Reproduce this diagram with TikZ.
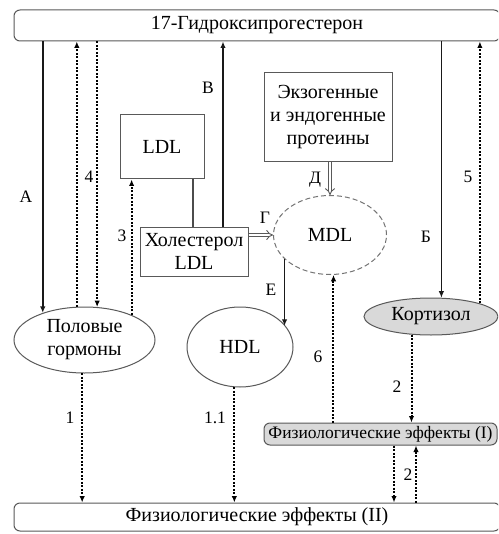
\documentclass[tikz,border=0pt]{standalone}
\usepackage{fontspec}
\setmainfont{Liberation Serif}
\usetikzlibrary{shapes.geometric,arrows.meta}
\begin{document}
\begin{tikzpicture}[x=1pt,y=-1pt,
  txt/.style={font=\fontsize{20}{23}\selectfont},
  lbl/.style={font=\fontsize{17.5}{20}\selectfont, inner sep=0pt},
  bx/.style={draw=black!65, line width=1pt, inner sep=0pt, txt, align=center},
  rbx/.style={bx, rounded corners=6pt},
  ell/.style={ellipse, draw=black!65, line width=1pt, inner sep=0pt, txt, align=center},
  sol/.style={draw=black!90, line width=1.5pt, -{Latex[length=6.5pt,width=5.5pt]}},
  plain/.style={draw=black!70, line width=1.1pt},
  dotl/.style={draw=black, line width=2pt, dash pattern=on 2pt off 1.5pt, -{Latex[length=6.5pt,width=5.5pt]}},
  dbl/.style={double=white, draw=black!65, line width=0.9pt, double distance=2.6pt, -{Implies}},
]
\clip (0,0) rectangle (498,534);
\fill[white] (0,0) rectangle (498,534);

% nodes
\node[rbx, minimum width=486pt, minimum height=31pt] (top) at (257,25.5) {17-Гидроксипрогестерон};
\node[rbx, minimum width=486pt, minimum height=28pt] (fiz2) at (257,517) {Физиологические эффекты (II)};
\node[rbx, fill=black!15, minimum width=233pt, minimum height=22pt, font=\fontsize{17.5}{20}\selectfont] (fiz1) at (380.5,434) {Физиологические эффекты (I)};
\node[bx, minimum width=84pt, minimum height=64pt] (ldl) at (162,147) {LDL};
\node[bx, minimum width=108pt, minimum height=49pt] (chol) at (194,251.5) {Холестерол\\LDL};
\node[bx, minimum width=128pt, minimum height=89pt] (exo) at (328,117.5) {Экзогенные\\и эндогенные\\протеины};
\node[ell, draw=black!55, dash pattern=on 5pt off 3pt, minimum width=113pt, minimum height=79pt] (mdl) at (330,235) {MDL};
\node[ell, minimum width=141pt, minimum height=66pt] (pol) at (84.5,340) {Половые\\гормоны};
\node[ell, minimum width=106pt, minimum height=80pt] (hdl) at (240,347) {HDL};
\node[ell, fill=black!15, minimum width=134pt, minimum height=37pt] (kort) at (431,316.5) {Кортизол};

% helper coordinates
\coordinate (xB) at (223,0);
\coordinate (xL) at (193,0);
\coordinate (x2a) at (394,0);
\coordinate (x2b) at (416,0);

% connectors
\draw[sol] (top.south -| pol.147) -- (pol.147);
\draw[dotl] (pol.103) -- (top.south -| pol.103);
\draw[dotl] (top.south -| pol.69) -- (pol.69);
\draw[dotl] (pol.28) -- (ldl.south -| pol.28);
\draw[sol] (chol.north -| xB) -- (top.south -| xB);
\draw[plain] (ldl.south -| xL) -- (chol.north -| xL);
\draw[dbl] (chol.east |- mdl.west) -- (mdl.west);
\draw[dbl] (exo.south -| mdl.north) -- (mdl.north);
\draw[sol] (mdl.208) -- (mdl.208 |- hdl.25);
\draw[sol] (top.south -| kort.61) -- (kort.61);
\draw[dotl] (kort.15) -- (top.south -| kort.15);
\draw[dotl] (kort.-137) -- (fiz1.north -| kort.-137);
\draw[dotl] (fiz1.north -| mdl.-85) -- (mdl.-85);
\draw[dotl] (pol.-94) -- (fiz2.north -| pol.-94);
\draw[dotl] (hdl.-98) -- (fiz2.north -| hdl.-98);
\draw[dotl] (fiz1.south -| x2a) -- (fiz2.north -| x2a);
\draw[dotl] (fiz2.north -| x2b) -- (fiz1.south -| x2b);

% labels
\node[lbl] (lA) at (26,197) {А};
\node[lbl] (l4) at (89,177) {4};
\node[lbl] (l3) at (122,236) {3};
\node[lbl] (lV) at (208,88) {В};
\node[lbl] (lD) at (315,180) {Д};
\node[lbl] (lG) at (265,218) {Г};
\node[lbl] (lE) at (271,290) {Е};
\node[lbl] (lB) at (426,237) {Б};
\node[lbl] (l5) at (468,177) {5};
\node[lbl] (l1) at (70,418) {1};
\node[lbl] (l11) at (215,418) {1.1};
\node[lbl] (l6) at (318,357) {6};
\node[lbl] (l2a) at (397,387) {2};
\node[lbl] (l2b) at (408,475) {2};
\end{tikzpicture}
\end{document}
